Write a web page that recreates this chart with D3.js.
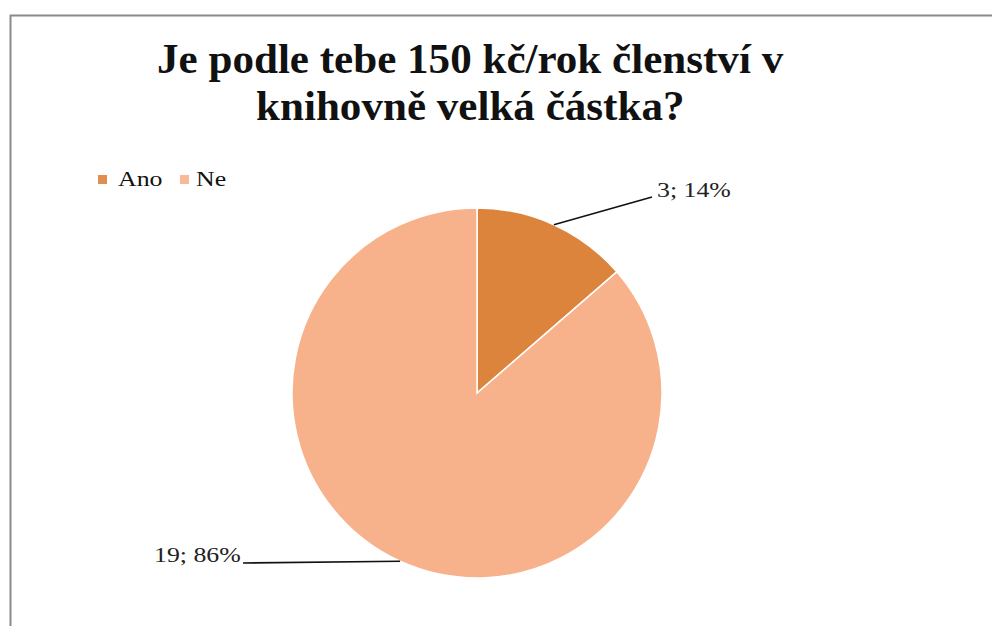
<!DOCTYPE html>
<html><head><meta charset="utf-8">
<script src="https://cdn.jsdelivr.net/npm/d3@7"></script>
<style>html,body{margin:0;padding:0;background:#fff;}svg{display:block;}
#wrap{position:relative;width:992px;height:626px;overflow:hidden;}
#wrap svg{position:absolute;left:0;top:0;}
.lbl{position:absolute;font-family:'Liberation Serif','Times New Roman',serif;white-space:nowrap;line-height:normal;color:#222;transform-origin:0 0;}
</style>
</head><body>
<div id="wrap"><svg id="c" width="992" height="626"></svg></div>
<script>
const categories = ["Ano", "Ne"];
const values = [3, 19];
const percents = ["14%", "86%"];
const titleLines = ["Je podle tebe 150 kč/rok členství v", "knihovně velká částka?"];
const colors = ["#DC833C", "#F7B28B"];

const wrap = d3.select("#wrap");
const svg = d3.select("#c");
const ASC = 0.891; // Liberation Serif ascent (em)

// place an HTML text label with its baseline at y (optionally widened by sx)
function label(txt, x, y, size, anchor, opts = {}) {
  const sx = opts.sx || 1;
  const el = wrap.append("div").attr("class", "lbl")
    .style("font-size", size + "px")
    .style("font-weight", opts.bold ? "bold" : "normal")
    .style("color", opts.color || "#222")
    .style("transform", `scaleX(${sx})`)
    .text(txt);
  const w = el.node().offsetWidth * sx;
  const left = anchor === "middle" ? x - w / 2 : anchor === "end" ? x - w : x;
  el.style("left", left + "px").style("top", (y - ASC * size) + "px");
  return el;
}

// frame
svg.append("rect").attr("x", 10.5).attr("y", 15.5).attr("width", 1100).attr("height", 800)
  .attr("fill", "#fff").attr("stroke", "#8a8a8a").attr("stroke-width", 2);

// title: size fitted so first line spans ~626px
const probe = wrap.append("div").attr("class", "lbl").style("font-size", "36px")
  .style("font-weight", "bold").text(titleLines[0]);
const pw = probe.node().offsetWidth;
probe.remove();
const tSize = pw > 0 ? 36 * 626 / pw : 36;
titleLines.forEach((t, i) => label(t, 470, 72 + i * 47, tSize, "middle", { bold: true, color: "#111" }));

// legend
const SX = 1.29, FS = 20;
const color = d3.scaleOrdinal().domain(categories).range(colors);
const lx = d3.scaleOrdinal().domain(categories).range([98, 180]);
categories.forEach(c => {
  svg.append("rect").attr("x", lx(c)).attr("y", 175).attr("width", 9).attr("height", 9)
    .attr("fill", color(c)).attr("opacity", 0.9);
  label(c, lx(c) + (c === "Ano" ? 20 : 16), 186, FS, "start", { color: "#111", sx: SX });
});

// pie
const cx = 477, cy = 393, r = 185;
const pie = d3.pie().sort(null).value(d => d.v);
const data = categories.map((c, i) => ({ c, v: values[i], p: percents[i] }));
const arcs = pie(data);
const arc = d3.arc().innerRadius(0).outerRadius(r);
const g = svg.append("g").attr("transform", `translate(${cx},${cy})`);
g.selectAll("path").data(arcs).join("path")
  .attr("d", arc).attr("fill", d => color(d.data.c))
  .attr("stroke", "#fff").attr("stroke-width", 1.5);

// labels with leader lines
const labelPos = [
  { frac: 0.5, end: [652, 197], tx: 657, ty: 197, anchor: "start" },
  { frac: 0.5, end: [243, 563], tx: 240, ty: 562, anchor: "end" }
];
arcs.forEach((a, i) => {
  const L = labelPos[i];
  const ang = a.startAngle + (a.endAngle - a.startAngle) * L.frac;
  const px = cx + r * Math.sin(ang);
  const py = cy - r * Math.cos(ang);
  svg.append("path")
    .attr("d", d3.line()([[px, py], L.end]))
    .attr("stroke", "#111").attr("stroke-width", 1.6).attr("fill", "none");
  label(`${a.data.v}; ${a.data.p}`, L.tx, L.ty, FS, L.anchor, { sx: SX });
});
</script>
</body></html>
